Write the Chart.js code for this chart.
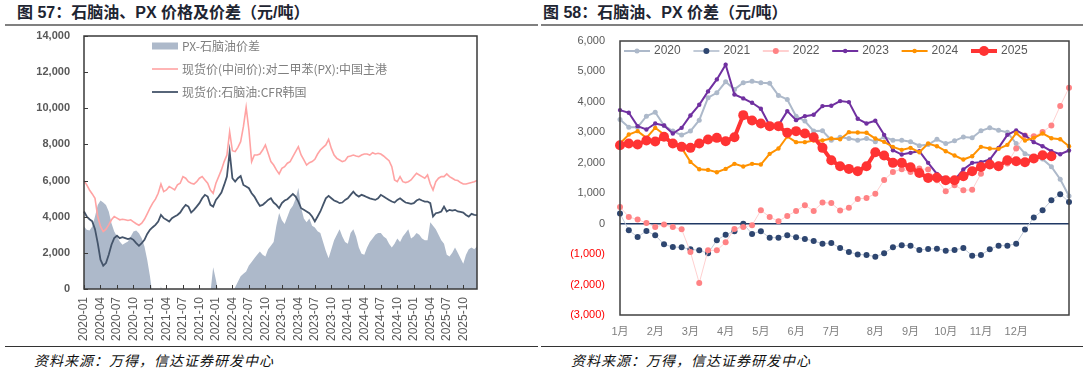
<!DOCTYPE html>
<html>
<head>
<meta charset="utf-8">
<script src="https://cdn.jsdelivr.net/npm/chart.js"></script>
<style>
body{margin:0;width:1088px;height:371px;background:#fff;position:relative;overflow:hidden;font-family:"Liberation Sans","Noto Sans CJK SC",sans-serif}
.title{position:absolute;top:5px;font-weight:bold;font-size:16px;line-height:16px;color:#1e2532;white-space:nowrap}
.rule{position:absolute;top:24px;height:2px;background:#808080}
.frule{position:absolute;top:346px;height:1px;background:#333}
.src{position:absolute;top:352px;font-size:14px;line-height:16px;font-style:italic;font-family:"Noto Sans CJK SC",sans-serif;letter-spacing:1px;color:#111;white-space:nowrap}
canvas{position:absolute;top:28px}
</style>
</head>
<body>
<div class="title" style="left:17px">图 57：石脑油、PX 价格及价差（元/吨）</div>
<div class="title" style="left:543px">图 58：石脑油、PX 价差（元/吨）</div>
<div class="rule" style="left:5px;width:533px"></div>
<div class="rule" style="left:541px;width:542px"></div>
<canvas id="c1" width="540" height="318" style="left:0"></canvas>
<canvas id="c2" width="548" height="318" style="left:540px"></canvas>
<div class="frule" style="left:5px;width:533px"></div>
<div class="frule" style="left:541px;width:542px"></div>
<div class="src" style="left:34px">资料来源：万得，信达证券研发中心</div>
<div class="src" style="left:571px">资料来源：万得，信达证券研发中心</div>
<script>
// ---- 图57: semi-monthly points, 2020-01 .. 2025-12
const years = [2020, 2021, 2022, 2023, 2024, 2025];
const halfMonthDays = ['01', '16'];
const quarterMonths = ['01', '04', '07', '10'];

const spread = [3460,3275,3240,3460,4010,4655,4895,4785,4655,4290,3640,3180,2910,2630,2450,2540,2630,2910,3180,3240,
  3090,2815,2355,1620,700,-400,-800,-900,150,-600,-700,-800,-900,-1000,-900,-800,-900,-1000,-900,-800,
  -700,-800,-900,-1000,-800,-600,-200,1200,500,-300,-600,-800,-1000,-900,-300,100,400,700,850,970,
  1300,1500,1700,1900,2080,1900,1800,2200,2400,2600,3500,4200,3800,3600,4000,4400,4600,5000,5600,4500,
  3900,3700,3900,3500,3400,3200,3100,2600,2100,1700,2200,2700,3000,3300,2900,2600,2500,3100,3300,2900,
  2300,1950,1900,2300,2600,2800,3000,3100,3100,2900,2800,2500,2300,2500,2800,2600,2900,3100,3300,2800,
  2900,3100,3000,2800,2700,2700,3700,3500,3300,3000,2700,2500,1900,1800,2000,2300,2000,1700,1400,1900,
  2200,2300,2200,2350];
const pxPrice = [6000,5760,5480,5260,5020,4010,3460,3180,3310,3550,3830,4010,3920,3830,3860,3830,3790,3830,3720,3610,
  3530,3640,3860,4160,4470,4750,4970,5300,5810,5390,5480,5670,5580,5480,5760,5850,6220,6130,5940,5850,
  5810,5940,6130,6220,6035,5850,5480,5300,5850,6220,6590,7050,7415,8700,7650,7600,7840,8150,8980,10050,
  8800,7050,7415,7415,7470,7690,7970,7510,7050,6860,6590,6370,6680,6770,6960,7050,7320,7600,7875,7415,
  7140,6860,6990,7050,7180,7470,7690,7840,7970,8280,7780,7415,7230,7140,7050,7100,7320,7360,7415,7360,
  7320,7415,7470,7470,7415,7540,7470,7510,7470,7360,7230,7100,6770,6035,5940,6220,5940,5890,5940,6035,
  6220,6400,6310,6220,6130,6310,5810,5480,5940,6130,6220,6220,6370,6220,6130,6035,6000,5890,5810,5810,
  5850,5890,5940,6000];
const naphtha = [4290,4010,3860,3740,3310,2540,1620,1290,1435,1895,2450,2815,2945,2815,2870,2815,2760,2815,2720,2540,
  2390,2540,2720,3050,3275,3420,3550,3735,4100,3920,3830,3735,3920,4010,4100,4230,4470,4655,4560,4230,
  4380,4560,4750,5020,5210,5115,4655,4560,4930,5115,5335,5760,6220,7600,6130,5940,6130,6255,5760,5670,
  5575,5300,5115,4840,4600,4655,4785,4930,5020,4785,4655,4470,4750,4895,4970,5115,5260,5115,4840,4470,
  4380,4290,4195,4010,3735,4010,4290,4655,5020,5150,5020,4895,4840,4750,4785,4930,5020,5210,5390,5210,
  5115,5210,5150,5080,5020,4970,4930,5020,5210,5115,5020,4930,4840,4785,4930,5020,4895,4785,4750,4710,
  4750,4895,4970,4895,4840,4840,4750,4010,4195,4230,4290,4560,4290,4380,4340,4380,4290,4270,4230,4100,
  4010,4160,4100,4085];

const leftDates = [];
years.forEach(y => {
  for (let m = 1; m <= 12; m++) {
    halfMonthDays.forEach(d => leftDates.push(y + '-' + String(m).padStart(2, '0') + '-' + d));
  }
});

// ---- 图58: weekly spread by year
const monthNames = ['1月','2月','3月','4月','5月','6月','7月','8月','9月','10月','11月','12月'];
const monthAt = [0, 4, 8, 12, 16, 20, 24, 29, 33, 37, 41, 45];
const y2020 = [3420,3170,3170,3530,3660,3225,3040,2910,3040,3400,4140,4300,4660,4410,4630,4680,4630,4610,4210,4080,
  3530,3370,3040,3050,2740,2840,2800,2740,2800,2690,2850,2740,2740,2690,2560,2600,2770,2630,2720,2850,
  2820,3050,3150,3070,3000,2630,2300,2200,2120,1870,1460,910];
const y2021 = [331,-217,-437,-239,-382,-678,-766,-777,-843,-875,-974,-546,-360,-250,0,-338,-250,-459,-459,-382,
  -448,-502,-568,-656,-634,-799,-930,-1009,-1029,-1084,-974,-777,-711,-722,-864,-831,-820,-886,-864,-799,
  -1051,-1029,-843,-722,-722,-656,-195,200,441,770,968,715];
const y2022 = [551,222,134,24,-108,-31,-108,-184,-930,-1950,-875,-875,-612,-173,-108,-53,441,222,79,255,
  419,606,419,693,675,430,525,814,840,985,1435,1700,1785,1700,1810,1778,1428,1066,1264,1099,
  1110,1640,1964,1942,1975,2470,2900,2875,3007,3226,3862,4465];
const y2023 = [3730,3642,3203,3094,3291,3225,2962,3148,3554,3905,4344,4739,5222,4245,4114,3971,3774,3225,3236,3697,
  3400,3532,3576,3861,3872,4026,3993,3445,3291,3379,2918,2413,2271,2326,2380,1997,1635,1448,1426,1777,
  1997,2018,2106,2490,2918,3061,2907,2677,2545,2380,2282,2402];
const y2024 = [2633,2929,3039,2819,3148,2929,2633,2490,2029,1788,1766,1689,1799,1964,1876,1964,1942,2293,2468,2863,
  2677,2677,2731,2731,2797,2775,3006,2995,2984,2797,2688,2523,2424,2490,2348,2633,2545,2380,2238,2106,
  2216,2523,2468,2457,2589,2973,2731,2819,2962,2808,2775,2545];
const y2025 = [2578,2633,2600,2731,2698,2852,2633,2523,2490,2633,2764,2819,2709,2841,3565,3390,3291,3203,3203,2984,
  3039,2962,2841,2490,2084,1887,1799,1722,1887,2348,2238,1997,1997,1854,1667,1503,1514,1426,1426,1558,
  1722,1865,1942,1887,2084,2051,2018,2139,2249,2216];

const weekLabels = [];
for (let i = 0; i < y2021.length; i++) weekLabels.push('');
monthAt.forEach((w, k) => { weekLabels[w] = monthNames[k]; });

Chart.defaults.font.family = '"Liberation Sans", "Noto Sans CJK SC", sans-serif';
Chart.defaults.animation = false;

const fmt = v => Math.abs(v).toLocaleString('en-US');

// frame round the plot + optional inward tick marks
const framePlugin = {
  id: 'frame',
  afterDatasetsDraw(chart, args, o) {
    const ctx = chart.ctx, a = chart.chartArea;
    ctx.save();
    ctx.strokeStyle = o.color;
    ctx.lineWidth = o.width;
    ctx.strokeRect(a.left, a.top, a.right - a.left, a.bottom - a.top);
    if (o.ticks) {
      ctx.lineWidth = 1;
      const xs = chart.scales.x, ys = chart.scales.y;
      xs.ticks.forEach((t, i) => {
        if (!t.label) return;
        const x = Math.round(xs.getPixelForTick(i)) + 0.5;
        ctx.beginPath(); ctx.moveTo(x, a.bottom); ctx.lineTo(x, a.bottom - 4); ctx.stroke();
      });
      ys.ticks.forEach((t, i) => {
        const y = Math.round(ys.getPixelForTick(i)) + 0.5;
        ctx.beginPath(); ctx.moveTo(a.left, y); ctx.lineTo(a.left + 4, y); ctx.stroke();
      });
    }
    ctx.restore();
  }
};

// legend drawn inside the plot
const insideLegend = {
  id: 'insideLegend',
  afterDraw(chart, args, o) {
    const ctx = chart.ctx;
    ctx.save();
    ctx.font = o.font;
    ctx.textBaseline = 'middle';
    chart.data.datasets.forEach((ds, k) => {
      const x = o.x + (o.horizontal ? k * o.step : 0);
      const y = o.y + (o.horizontal ? 0 : k * o.step);
      if (ds.fill) {
        ctx.fillStyle = ds.backgroundColor;
        ctx.fillRect(x, y - 3.5, o.sym, 7);
      } else {
        ctx.strokeStyle = ds.legendLine || ds.borderColor;
        ctx.lineWidth = Math.max(ds.borderWidth, 1.5);
        ctx.beginPath(); ctx.moveTo(x, y); ctx.lineTo(x + o.sym, y); ctx.stroke();
        if (ds.pointRadius) {
          ctx.fillStyle = ds.pointBackgroundColor;
          ctx.beginPath(); ctx.arc(x + o.sym / 2, y, ds.pointRadius, 0, Math.PI * 2); ctx.fill();
        }
      }
      ctx.fillStyle = o.color;
      ctx.fillText(ds.label, x + o.sym + o.gap, y);
    });
    ctx.restore();
  }
};

new Chart(document.getElementById('c1').getContext('2d'), {
  type: 'line',
  data: {
    labels: leftDates,
    datasets: [
      { label: 'PX-石脑油价差', data: spread, fill: 'origin', backgroundColor: '#ADB9CA', borderWidth: 0, pointRadius: 0, order: 3 },
      { label: '现货价(中间价):对二甲苯(PX):中国主港', data: pxPrice, fill: false, borderColor: '#FFA3A3', borderWidth: 1.6, pointRadius: 0, order: 2 },
      { label: '现货价:石脑油:CFR韩国', data: naphtha, fill: false, borderColor: '#44546A', borderWidth: 1.8, pointRadius: 0, order: 1 }
    ]
  },
  options: {
    responsive: false,
    layout: { padding: { left: 0, right: 63, top: 8, bottom: 0 } },
    elements: { line: { tension: 0 } },
    plugins: {
      legend: { display: false },
      tooltip: { enabled: false },
      frame: { color: '#3a3a3a', width: 1.5, ticks: true },
      insideLegend: { x: 152, y: 18, step: 23, sym: 26, gap: 4, horizontal: false, font: '12px "Noto Sans CJK SC", sans-serif', color: '#7F7F7F' }
    },
    scales: {
      x: {
        type: 'category', offset: false,
        grid: { display: false, drawTicks: false }, border: { display: false },
        ticks: {
          autoSkip: false, maxRotation: 90, minRotation: 90, padding: 8, color: '#595959', font: { size: 12 },
          callback: (v, i) => {
            const d = leftDates[i];
            return d.endsWith('-01') && quarterMonths.includes(d.slice(5, 7)) ? d.slice(0, 7) : '';
          }
        },
        afterFit: s => { s.height = 57; }
      },
      y: {
        min: 0, max: 14000,
        grid: { display: false, drawTicks: false }, border: { display: false },
        ticks: { stepSize: 2000, padding: 14, color: '#595959', font: { size: 11, weight: 'bold' }, callback: v => fmt(v) },
        afterFit: s => { s.width = 84; s.paddingTop = 6; s.paddingBottom = 6; }
      }
    }
  },
  plugins: [framePlugin, insideLegend]
});

new Chart(document.getElementById('c2').getContext('2d'), {
  type: 'line',
  data: {
    labels: weekLabels,
    datasets: [
      { label: '2020', data: y2020, borderColor: '#ADB9CA', borderWidth: 2, pointRadius: 2.5, pointBackgroundColor: '#ADB9CA', pointBorderWidth: 0, order: 5 },
      { label: '2021', data: y2021, borderColor: '#C3CCDA', legendLine: '#ADB9CA', borderWidth: 1, pointRadius: 3, pointBackgroundColor: '#2E4670', pointBorderWidth: 0, order: 4 },
      { label: '2022', data: y2022, borderColor: '#FFD0D0', legendLine: '#FFC0C0', borderWidth: 1, pointRadius: 3, pointBackgroundColor: '#FF8284', pointBorderWidth: 0, order: 3 },
      { label: '2023', data: y2023, borderColor: '#7030A0', borderWidth: 2, pointRadius: 2.2, pointBackgroundColor: '#7030A0', pointBorderWidth: 0, order: 2 },
      { label: '2024', data: y2024, borderColor: '#FF9200', borderWidth: 2, pointRadius: 2.2, pointBackgroundColor: '#FF9200', pointBorderWidth: 0, order: 1 },
      { label: '2025', data: y2025, borderColor: '#FF3333', borderWidth: 4, pointRadius: 5, pointBackgroundColor: '#FF3333', pointBorderWidth: 0, order: 0 }
    ]
  },
  options: {
    responsive: false,
    layout: { padding: { left: 0, right: 19, top: 13, bottom: 0 } },
    elements: { line: { tension: 0, fill: false } },
    datasets: { line: { clip: false } },
    plugins: {
      legend: { display: false },
      tooltip: { enabled: false },
      frame: { color: '#404040', width: 1.5, ticks: false },
      insideLegend: { x: 84, y: 23, step: 69.4, sym: 26, gap: 4, horizontal: true, font: '12px "Liberation Sans", sans-serif', color: '#595959' }
    },
    scales: {
      x: {
        type: 'category', offset: false,
        grid: { display: false, drawTicks: false }, border: { display: false },
        ticks: { autoSkip: false, maxRotation: 0, minRotation: 0, padding: 10, color: '#7F7F7F', font: { size: 11 } },
        afterFit: s => { s.height = 31; }
      },
      y: {
        min: -3000, max: 6000,
        grid: { drawTicks: false, lineWidth: 1.5, color: c => c.tick && c.tick.value === 0 ? '#1F3864' : 'rgba(0,0,0,0)' },
        border: { display: false },
        ticks: {
          stepSize: 1000, padding: 15, font: { size: 11 },
          color: c => c.tick.value < 0 ? '#FF0000' : '#595959',
          callback: v => v < 0 ? '(' + fmt(v) + ')' : fmt(v)
        },
        afterFit: s => { s.width = 80; s.paddingTop = 6; s.paddingBottom = 6; }
      }
    }
  },
  plugins: [framePlugin, insideLegend]
});
</script>
</body>
</html>
